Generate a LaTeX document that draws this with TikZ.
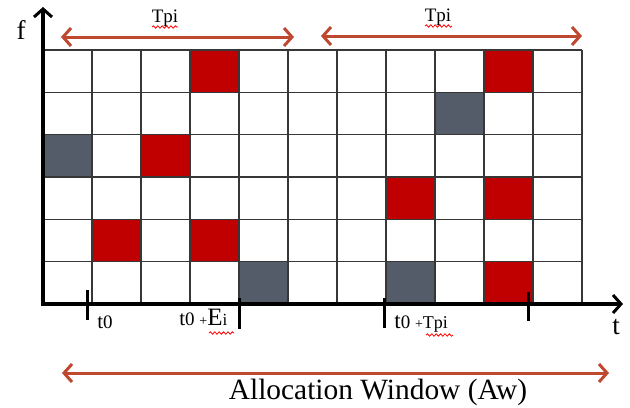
\documentclass[tikz,border=0pt]{standalone}
\usepackage{fontspec}
\setmainfont{Liberation Serif}
\usetikzlibrary{arrows.meta,decorations.pathmorphing}
\definecolor{cellred}{RGB}{192,0,0}
\definecolor{cellgray}{RGB}{84,92,106}
\definecolor{arrred}{RGB}{190,72,48}
\definecolor{gridcol}{RGB}{55,55,55}
\begin{document}
\begin{tikzpicture}[x=0.5pt,y=-0.5pt,
  redcell/.style={fill=cellred},
  graycell/.style={fill=cellgray},
  gridline/.style={draw=gridcol,line width=0.8pt},
  axis/.style={line width=1.7pt,-{Straight Barb[length=4pt,width=9pt,line width=1.5pt]}},
  span/.style={draw=arrred,line width=1.5pt,{Straight Barb[length=4pt,width=9pt,line width=1.5pt]}-{Straight Barb[length=4pt,width=9pt,line width=1.5pt]}},
  tickmark/.style={line width=1.5pt},
  squiggle/.style={draw=red,line width=0.4pt,decorate,decoration={snake,segment length=2.2pt,amplitude=0.6pt}},
  lbl/.style={inner sep=0pt,font=\fontsize{10}{12}\selectfont}
]
\useasboundingbox (0,0) rectangle (630,407);
% cells
\foreach \c/\r/\s in {4/1/redcell,10/1/redcell,9/2/graycell,1/3/graycell,3/3/redcell,8/4/redcell,10/4/redcell,2/5/redcell,4/5/redcell,5/6/graycell,8/6/graycell,10/6/redcell}
  \fill[\s] ({43+49*(\c-1)},{50+42.333*(\r-1)}) rectangle ++(49,42.333);
% grid
\foreach \i in {1,...,11}
  \draw[gridline] ({43+49*\i},50) -- ({43+49*\i},304);
\foreach \j in {0,...,5}
  \draw[gridline] (43,{50+42.333*\j}) -- (582,{50+42.333*\j});
% axes
\coordinate (O) at (43,304);
\coordinate (ytop) at (43,7);
\coordinate (xend) at (623,304);
\draw[axis] (43,305.5) -- (ytop);
\draw[axis] (41.5,304) -- (xend);
\node[inner sep=0pt,font=\fontsize{13.5}{14}\selectfont] (f) at (21,30) {f};
\node[inner sep=0pt,font=\fontsize{13.5}{14}\selectfont] (t) at (616,327) {t};
% ticks
\coordinate (k1a) at (87,290); \coordinate (k1b) at (87,320);
\coordinate (k2a) at (239,298); \coordinate (k2b) at (239,329);
\coordinate (k3a) at (384,298); \coordinate (k3b) at (384,328);
\coordinate (k4a) at (528,292); \coordinate (k4b) at (528,321);
\draw[tickmark] (k1a) -- (k1b);
\draw[tickmark] (k2a) -- (k2b);
\draw[tickmark] (k3a) -- (k3b);
\draw[tickmark] (k4a) -- (k4b);
% tick labels
\node[lbl,anchor=base west] (l0) at (97,328) {{\fontsize{10.5}{12}\selectfont t}{\fontsize{9.5}{10}\selectfont 0}};
\node[lbl,anchor=base west] (l1) at (179,325) {{\fontsize{10.5}{12}\selectfont t}{\fontsize{9.5}{10}\selectfont 0 }{\fontsize{7}{8}\selectfont +}{\fontsize{12.5}{14}\selectfont E}{\fontsize{8.5}{9}\selectfont i}};
\draw[squiggle] (209,333) -- (234,333);
\node[lbl,anchor=base west] (l2) at (394,328) {{\fontsize{11.5}{12}\selectfont t}{\fontsize{9.5}{10}\selectfont 0 }{\fontsize{7}{8}\selectfont +}{\fontsize{9}{10}\selectfont Tpi}};
\draw[squiggle] (426,335) -- (453,335);
% period arrows
\coordinate (p1a) at (61,37); \coordinate (p1b) at (294,37);
\coordinate (p2a) at (321,36); \coordinate (p2b) at (582,36);
\draw[span] (p1a) -- (p1b);
\draw[span] (p2a) -- (p2b);
\node[lbl,font=\fontsize{9.5}{10}\selectfont] (T1) at (165,18) {Tpi};
\draw[squiggle] (152,27) -- (178,27);
\node[lbl,font=\fontsize{9.5}{10}\selectfont] (T2) at (438,17) {Tpi};
\draw[squiggle] (425,26) -- (452,26);
% allocation window
\coordinate (wa) at (62,373); \coordinate (wb) at (609,373);
\draw[span] (wa) -- (wb);
\node[inner sep=0pt,font=\fontsize{14.7}{16}\selectfont] (aw) at (378,392) {Allocation Window (Aw)};
\end{tikzpicture}
\end{document}
